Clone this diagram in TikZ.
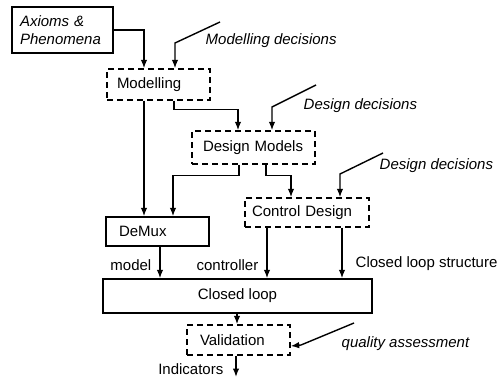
\documentclass[tikz,border=0pt]{standalone}
\usepackage{fontspec}
\setmainfont{Liberation Sans}
\usetikzlibrary{arrows.meta}
\begin{document}
\begin{tikzpicture}[x=1pt,y=-1pt,
  font=\fontsize{15}{18}\selectfont,
  line width=1.4pt,
  arr/.style={-{Latex[length=8.5pt,width=6.5pt]}},
  solidbox/.style={draw, rectangle, inner ysep=0pt, align=left},
  dashbox/.style={solidbox, dash pattern=on 6pt off 4pt},
  lbl/.style={inner sep=0pt},
  ilbl/.style={lbl, font=\fontsize{15}{18}\selectfont\itshape}]
\useasboundingbox (0,0) rectangle (503,378);

% process boxes
\node[solidbox, minimum width=101pt, minimum height=46pt, text width=85pt, inner xsep=8pt,
      font=\fontsize{15}{18}\selectfont\itshape] (ax) at (62.5,30) {Axioms \&\\Phenomena};
\node[dashbox, minimum height=31pt, text width=83pt, inner xsep=10pt] (mod) at (158.5,84.5) {Modelling};
\node[dashbox, minimum height=33pt, text width=101pt, inner xsep=11pt] (dm) at (253.5,147.5) {Design Models};
\node[dashbox, minimum height=29pt, text width=110pt, inner xsep=7pt] (cd) at (307,212.5) {Control Design};
\node[solidbox, minimum height=29pt, text width=77pt, inner xsep=13pt] (dx) at (157.5,231.5) {DeMux};
\node[solidbox, minimum height=34pt, minimum width=269pt, align=center] (cl) at (237.5,296) {Closed loop};
\node[dashbox, minimum height=30pt, text width=77pt, inner xsep=13pt] (val) at (238.5,340) {Validation};

% decision inputs
\coordinate (md1) at (220,22);
\coordinate (md2) at (175,43);
\coordinate (dd1) at (316,85);
\coordinate (dd2) at (272,107);
\coordinate (de1) at (383,153);
\coordinate (de2) at (340,174);
\coordinate (qa1) at (354,323);
\coordinate (qa2) at (301,345);
\coordinate (out) at (236,377);

\node[ilbl, anchor=west] (tmd) at (205,41) {Modelling decisions};
\node[ilbl, anchor=west] (tdd) at (303,106) {Design decisions};
\node[ilbl, anchor=west] (tde) at (379,166) {Design decisions};
\node[ilbl, anchor=west] (tqa) at (341,344) {quality assessment};

% signal labels
\node[lbl, anchor=east] (tmodel) at (152,265) {model};
\node[lbl, anchor=east] (tctrl) at (259,265) {controller};
\node[lbl, anchor=west] (tcls) at (355,264) {Closed loop structure};
\node[lbl, anchor=east] (tind) at (224,369) {Indicators};

% connectors
\draw[arr] (ax.east) -| ([xshift=-14.5pt]mod.north);
\draw[arr] (md1) -- (md2) -- (md2 |- mod.north);
\draw[arr] ([xshift=-14.5pt]mod.south) -- ([xshift=-14.5pt]mod.south |- dx.north);
\draw[arr] ([xshift=15.5pt]mod.south) -- ++(0,9) -| ([xshift=-15.5pt]dm.north);
\draw[arr] (dd1) -- (dd2) -- (dd2 |- dm.north);
\draw[arr] ([xshift=-14.5pt]dm.south) -- ++(0,11) -| ([xshift=15.5pt]dx.north);
\draw[arr] ([xshift=12.5pt]dm.south) -- ++(0,11) -| ([xshift=-16pt]cd.north);
\draw[arr] (de1) -- (de2) -- (de2 |- cd.north);
\draw[arr] ([xshift=2.5pt]dx.south) -- ([xshift=2.5pt]dx.south |- cl.north);
\draw[arr] ([xshift=-40pt]cd.south) -- ([xshift=-40pt]cd.south |- cl.north);
\draw[arr] ([xshift=35pt]cd.south) -- ([xshift=35pt]cd.south |- cl.north);
\draw[arr] ([xshift=-0.5pt]cl.south) -- ([xshift=-1.5pt]val.north);
\draw[arr] (qa1) -- (qa2) -- ([yshift=-6pt]val.east);
\draw[arr] ([xshift=-2.5pt]val.south) -- (out);
\end{tikzpicture}
\end{document}
